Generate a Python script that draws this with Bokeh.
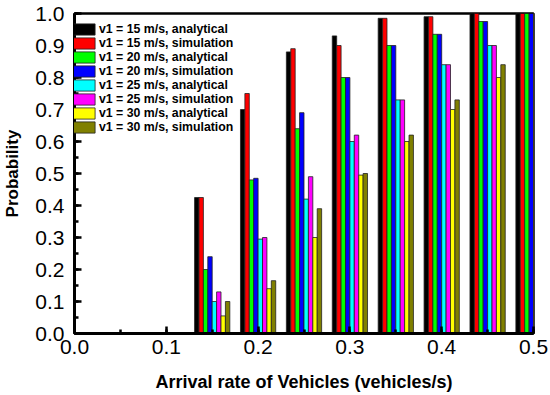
from bokeh.plotting import figure
from bokeh.models import ColumnDataSource, Range1d, SingleIntervalTicker, PrintfTickFormatter, Legend
from bokeh.transform import dodge
from bokeh.embed import file_html
from bokeh.resources import INLINE

# ---- data ----
arrival_rate = [0.15, 0.20, 0.25, 0.30, 0.35, 0.40, 0.45, 0.50]
v15_analytical = [0.425, 0.70, 0.88, 0.93, 0.985, 0.99, 1.0, 1.0]
v15_simulation = [0.425, 0.75, 0.89, 0.90, 0.985, 0.99, 1.0, 1.0]
v20_analytical = [0.20, 0.48, 0.64, 0.80, 0.90, 0.935, 0.975, 1.0]
v20_simulation = [0.24, 0.485, 0.69, 0.80, 0.90, 0.935, 0.975, 1.0]
v25_analytical = [0.10, 0.295, 0.42, 0.60, 0.73, 0.84, 0.90, 1.0]
v25_simulation = [0.13, 0.30, 0.49, 0.62, 0.73, 0.84, 0.90, 1.0]
v30_analytical = [0.055, 0.14, 0.30, 0.495, 0.60, 0.70, 0.80, 1.0]
v30_simulation = [0.10, 0.165, 0.39, 0.50, 0.62, 0.73, 0.84, 1.0]

series_names = ["v1 = 15 m/s, analytical", "v1 = 15 m/s, simulation",
                "v1 = 20 m/s, analytical", "v1 = 20 m/s, simulation",
                "v1 = 25 m/s, analytical", "v1 = 25 m/s, simulation",
                "v1 = 30 m/s, analytical", "v1 = 30 m/s, simulation"]
series_values = [v15_analytical, v15_simulation, v20_analytical, v20_simulation,
                 v25_analytical, v25_simulation, v30_analytical, v30_simulation]
colors = ["#000000", "#FF0000", "#00FF00", "#0000FF",
          "#00FFFF", "#FF00FF", "#FFFF00", "#808000"]

data = {"x": arrival_rate}
for i, vals in enumerate(series_values):
    data[f"s{i}"] = vals
source = ColumnDataSource(data)

W, H = 548, 395
FRAME_H = 320
p = figure(width=W, height=H, output_backend="svg", toolbar_location=None,
           x_range=Range1d(0, 0.5), y_range=Range1d(0, 1.0),
           min_border_left=69, min_border_right=W - 533, min_border_top=13,
           min_border_bottom=H - 13 - FRAME_H)
p.xgrid.visible = False
p.ygrid.visible = False
p.outline_line_color = "black"
p.outline_line_width = 2.5

bar_w = 0.0048
renderers = []
for i, name in enumerate(series_names):
    r = p.vbar(x=dodge("x", (i - 3.5) * bar_w, range=p.x_range), top=f"s{i}",
               width=bar_w, source=source, fill_color=colors[i],
               line_color="#222222", line_width=0.8)
    renderers.append((name, [r]))

legend = Legend(items=renderers, location=(-10, 199),
                glyph_width=34, glyph_height=14, label_height=12, spacing=0,
                label_standoff=1, padding=0, margin=0,
                border_line_alpha=0, background_fill_alpha=0,
                label_text_font="Liberation Sans", label_text_font_style="bold",
                label_text_font_size="12.3px", label_text_color="black",
                label_text_line_height=1.0)
p.add_layout(legend, "center")

for ax in (p.xaxis[0], p.yaxis[0]):
    ax.axis_line_width = 3
    ax.axis_line_color = "black"
    ax.major_tick_in = 7
    ax.major_tick_out = 0
    ax.minor_tick_in = 4
    ax.minor_tick_out = 0
    ax.major_tick_line_width = 2.5
    ax.minor_tick_line_width = 2.5
    ax.major_tick_line_color = "black"
    ax.minor_tick_line_color = "black"
    ax.major_label_text_font = "Liberation Sans"
    ax.major_label_text_font_size = "21px"
    ax.major_label_text_color = "black"
    ax.formatter = PrintfTickFormatter(format="%.1f")
    ax.axis_label_text_font = "Liberation Sans"
    ax.axis_label_text_font_style = "bold"
    ax.axis_label_text_color = "black"

p.xaxis[0].ticker = SingleIntervalTicker(interval=0.1, num_minor_ticks=2)
p.yaxis[0].ticker = SingleIntervalTicker(interval=0.1, num_minor_ticks=2)

p.xaxis[0].axis_label = "Arrival rate of Vehicles (vehicles/s)"
p.xaxis[0].axis_label_text_font_size = "18px"
p.xaxis[0].major_label_standoff = 6
p.xaxis[0].axis_label_standoff = 15

p.yaxis[0].axis_label = "Probability"
p.yaxis[0].axis_label_text_font_size = "17px"
p.yaxis[0].major_label_standoff = 10
p.yaxis[0].axis_label_standoff = 10

open("out.html", "w").write(file_html(p, INLINE))
